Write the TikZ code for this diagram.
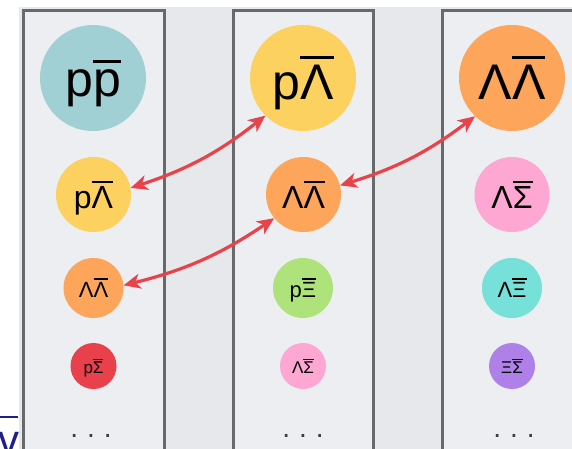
\documentclass[tikz,border=0pt]{standalone}
\usepackage{fontspec}
\setmainfont{Liberation Sans}
\usetikzlibrary{arrows.meta}
\definecolor{bgcol}{HTML}{E6E8EC}
\definecolor{colfill}{HTML}{ECEEF1}
\definecolor{colborder}{HTML}{676A6C}
\definecolor{arrowred}{HTML}{E8434A}
\definecolor{cteal}{HTML}{A0CFD4}
\definecolor{cyellow}{HTML}{FDD15F}
\definecolor{corange}{HTML}{FDA55A}
\definecolor{cred}{HTML}{E9414B}
\definecolor{cgreen}{HTML}{AEE27A}
\definecolor{cpink}{HTML}{FDA7D2}
\definecolor{ccyan}{HTML}{77E0D8}
\definecolor{cpurple}{HTML}{AE80E8}
\definecolor{navyv}{RGB}{30,30,140}
\definecolor{dotcol}{HTML}{3C3C3C}
% overlined glyph: bar of 0.065em, gap 0.12em
\newcommand\ob[1]{\leavevmode\vbox{\hrule height 0.065em\kern0.12em\hbox{#1}}}
\tikzset{
  ball/.style={circle, inner sep=0pt, text depth=0pt, text=black},
  bigball/.style={ball, minimum size=106pt, font=\fontsize{50}{50}\selectfont},
  midball/.style={ball, minimum size=75pt, font=\fontsize{32}{32}\selectfont},
  smlball/.style={ball, minimum size=60pt, font=\fontsize{22}{22}\selectfont},
  tinyball/.style={ball, minimum size=46pt, font=\fontsize{17}{17}\selectfont},
  colbox/.style={draw=colborder, line width=3pt, fill=colfill},
  link/.style={draw=arrowred, line width=3.2pt,
    {Stealth[length=17pt,width=15pt,inset=5pt]}-{Stealth[length=17pt,width=15pt,inset=5pt]}},
  dotrow/.style={anchor=base, inner sep=0pt, text=dotcol, font=\fontsize{28}{28}\selectfont}
}
\begin{document}
\begin{tikzpicture}[x=1pt,y=-1pt]
\useasboundingbox (0,0) rectangle (572,449);
\clip (0,0) rectangle (572,449);
\fill[white] (0,0) rectangle (572,449);
\fill[bgcol] (19,7) rectangle (580,460);
% columns
\draw[colbox] (23,11) rectangle (164,470);
\draw[colbox] (233,11) rectangle (373,470);
\draw[colbox] (442,11) rectangle (600,470);
% column 1
\node[bigball, fill=cteal] (a1) at (93,78) {p\ob{p}};
\node[midball, fill=cyellow] (a2) at (93.5,194.5) {p\ob{Λ}};
\node[smlball, fill=corange] (a3) at (93.5,288) {Λ\ob{Λ}};
\node[tinyball, fill=cred] (a4) at (93.5,366) {p\ob{Σ}};
\node[dotrow] (a5) at (91,437) {.\hspace{9pt}.\hspace{9pt}.};
% column 2
\node[bigball, fill=cyellow] (b1) at (303,78) {p\ob{Λ}};
\node[midball, fill=corange] (b2) at (303.5,194.5) {Λ\ob{Λ}};
\node[smlball, fill=cgreen] (b3) at (303,288) {p\ob{Ξ}};
\node[tinyball, fill=cpink] (b4) at (303,366) {Λ\ob{Σ}};
\node[dotrow] (b5) at (303,437) {.\hspace{9pt}.\hspace{9pt}.};
% column 3
\node[bigball, fill=corange] (c1) at (512,78) {Λ\ob{Λ}};
\node[midball, fill=cpink] (c2) at (512,194.5) {Λ\ob{Σ}};
\node[smlball, fill=ccyan] (c3) at (512,288) {Λ\ob{Ξ}};
\node[tinyball, fill=cpurple] (c4) at (512,366) {Ξ\ob{Σ}};
\node[dotrow] (c5) at (514,437) {.\hspace{9pt}.\hspace{9pt}.};
% links
\draw[link] (a2.10) to[bend right=10] (b1.225);
\draw[link] (a3.5) to[bend right=10] (b2.219);
\draw[link] (b2.14) to[bend right=10] (c1.226);
% partial v-bar at left edge
\node[anchor=base east, inner sep=0pt, text=navyv, font=\fontsize{42}{42}\selectfont] (vv) at (19.5,454) {v};
\draw[navyv, line width=2.5pt] (-2,417) -- (18.3,417);
\end{tikzpicture}
\end{document}
